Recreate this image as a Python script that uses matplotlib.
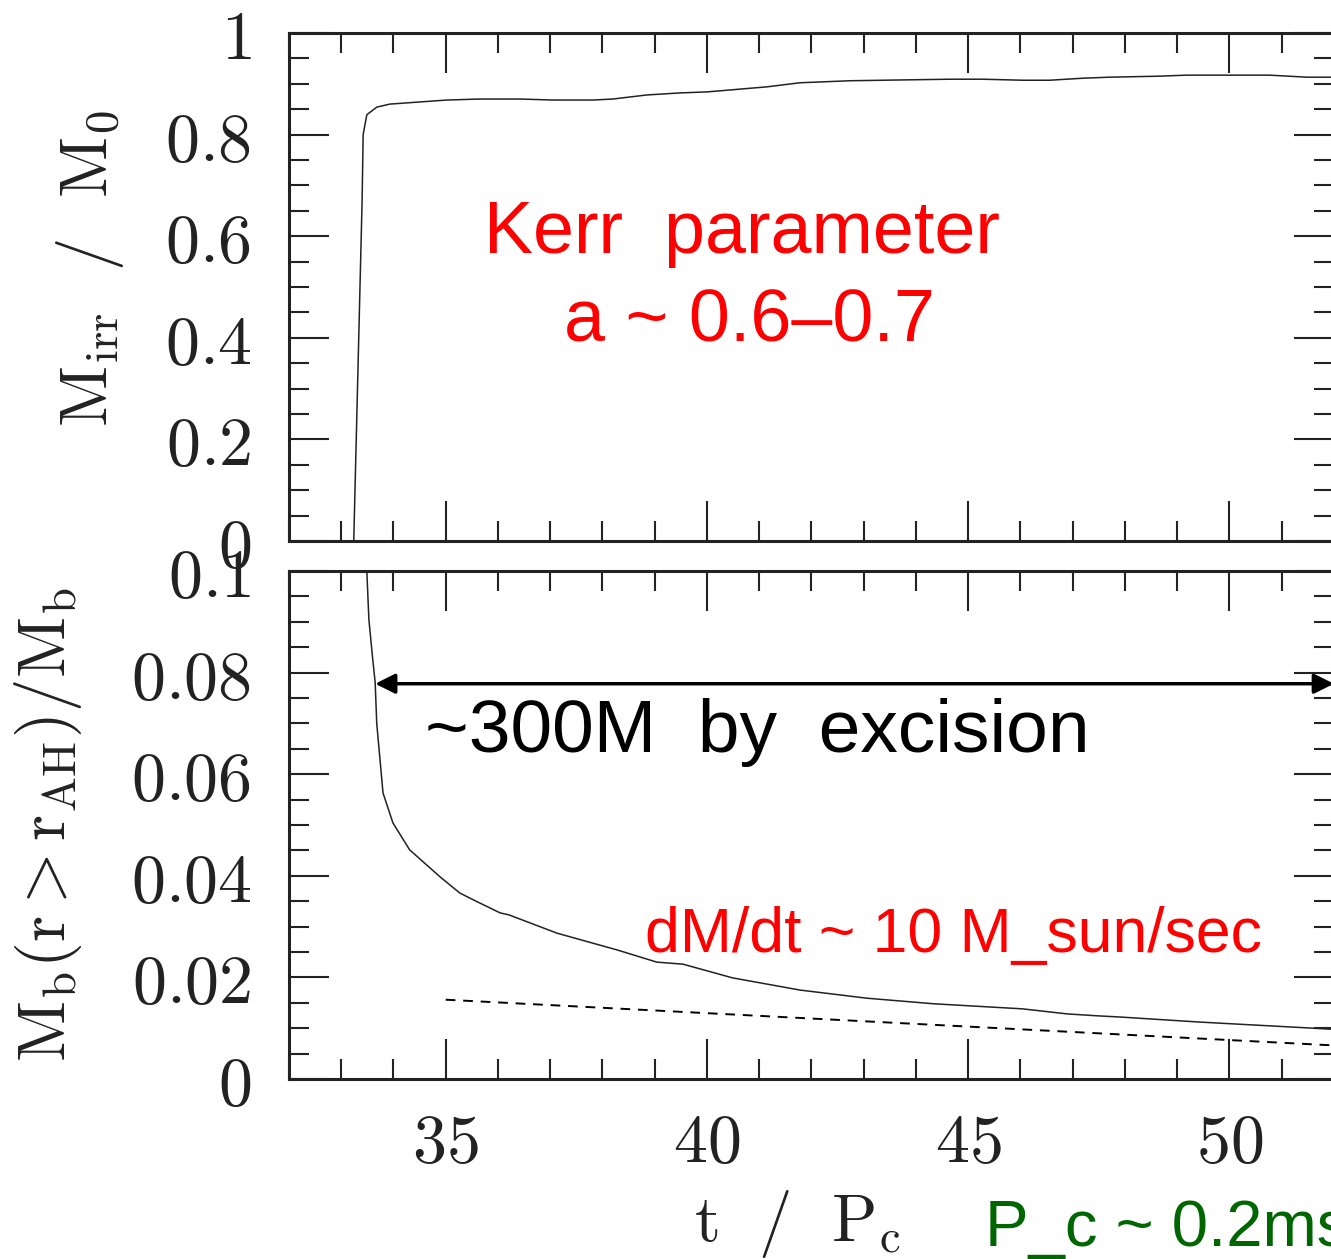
"""
Irreducible mass of the black hole and baryon mass outside the apparent
horizon, both as a function of t / P_c.
"""
import matplotlib
matplotlib.use("Agg")
import matplotlib.pyplot as plt
from matplotlib.ticker import MultipleLocator, FuncFormatter

plt.rcParams["mathtext.fontset"] = "cm"

# upper panel: M_irr / M_0
t_irr = [33.24, 33.40, 33.42, 33.49, 33.68, 33.93, 35.02, 35.65, 36.42,
         37.05, 37.82, 38.20, 38.85, 39.48, 40.00, 41.15, 41.78, 42.74,
         43.37, 44.65, 45.28, 46.04, 46.56, 47.20, 47.71, 48.66, 49.18,
         50.00, 50.77, 51.48, 51.94]
m_irr = [0.0, 0.67, 0.80, 0.839, 0.854, 0.860, 0.868, 0.870, 0.870,
         0.868, 0.868, 0.870, 0.878, 0.882, 0.884, 0.894, 0.902, 0.906,
         0.907, 0.909, 0.909, 0.907, 0.907, 0.911, 0.913, 0.915, 0.917,
         0.917, 0.917, 0.913, 0.913]

# lower panel: M_b(r > r_AH) / M_b
t_out = [33.49, 33.53, 33.60, 33.65, 33.68, 33.80, 33.99, 34.31, 34.89,
         35.27, 35.54, 36.04, 36.21, 37.13, 38.28, 39.04, 39.54, 40.49,
         41.78, 43.06, 44.34, 46.04, 46.90, 47.52, 47.90, 49.43, 51.59,
         51.94]
m_out = [0.100, 0.0904, 0.0830, 0.0780, 0.0700, 0.0563, 0.0504, 0.0451,
         0.0398, 0.0366, 0.0352, 0.0327, 0.0323, 0.0287, 0.0254, 0.0230,
         0.0226, 0.0199, 0.0175, 0.0159, 0.0148, 0.0138, 0.0128, 0.0124,
         0.0122, 0.0112, 0.0100, 0.0098]

# dashed reference slope (dM/dt ~ 10 M_sun/sec)
t_slope = [35.0, 52.0]
m_slope = [0.0156, 0.0066]

T_MIN, T_MAX = 32, 52
INK = "#222222"


def style_axis(ax, ymajor, yminor):
    """Ticks inside on all four sides, long majors, computer-modern labels."""
    ax.set_xlim(T_MIN, T_MAX)
    ax.xaxis.set_major_locator(MultipleLocator(5))
    ax.xaxis.set_minor_locator(MultipleLocator(1))
    ax.yaxis.set_major_locator(MultipleLocator(ymajor))
    ax.yaxis.set_minor_locator(MultipleLocator(yminor))
    fmt = FuncFormatter(lambda v, pos: f"${v:g}$")
    ax.xaxis.set_major_formatter(fmt)
    ax.yaxis.set_major_formatter(fmt)
    ax.tick_params(which="both", direction="in", top=True, right=True,
                   color=INK, width=1.5, labelsize=49, labelcolor=INK)
    ax.tick_params(which="major", length=29)
    ax.tick_params(which="minor", length=14.5)
    ax.tick_params(axis="x", pad=22)
    ax.tick_params(axis="y", pad=27)
    for spine in ax.spines.values():
        spine.set_linewidth(2.2)
        spine.set_color(INK)


fig = plt.figure(figsize=(13.31, 12.59), dpi=100)
ax_top = fig.add_axes([0.2171, 0.5703, 0.7851, 0.4035])
ax_bot = fig.add_axes([0.2171, 0.1430, 0.7851, 0.4035])

# upper panel
ax_top.plot(t_irr, m_irr, color=INK, lw=1.1)
ax_top.set_ylim(0, 1)
style_axis(ax_top, 0.2, 0.05)
ax_top.tick_params(axis="x", labelbottom=False)
ax_top.text(40.67, 0.567, "Kerr  parameter", color="red", fontsize=53,
            family="Liberation Sans", ha="center", va="baseline")
ax_top.text(40.82, 0.392, "a ~ 0.6\u20130.7", color="red", fontsize=53,
            family="Liberation Sans", ha="center", va="baseline")

# lower panel
ax_bot.plot(t_out, m_out, color=INK, lw=1.1)
ax_bot.plot(t_slope, m_slope, color="black", lw=1.4, dashes=(5, 4))
ax_bot.set_ylim(0, 0.1)
style_axis(ax_bot, 0.02, 0.005)
ax_bot.annotate("", xy=(33.65, 0.0778), xytext=(T_MAX, 0.0778),
                arrowprops=dict(arrowstyle="<|-|>", lw=2.5, color="black",
                                mutation_scale=30, shrinkA=0, shrinkB=0),
                annotation_clip=False)
ax_bot.text(34.60, 0.0644, "~300M  by  excision", color="black", fontsize=54,
            family="Liberation Sans", ha="left", va="baseline")
ax_bot.text(38.81, 0.0250, "dM/dt ~ 10 M_sun/sec", color="red", fontsize=45,
            family="Liberation Sans", ha="left", va="baseline")
ax_bot.text(45.32, -0.0328, "P_c ~ 0.2ms", color="#006600", fontsize=47,
            family="Liberation Sans", ha="left", va="baseline", clip_on=False)

# axis labels
fig.text(0.0676, 0.787, r"$\mathrm{M_{irr}\ \ /\ \ M_0}$", rotation=90,
         ha="center", va="center", fontsize=48, color=INK)
fig.text(0.036, 0.3447, r"$\mathrm{M_b(r>r_{AH})/M_b}$", rotation=90,
         ha="center", va="center", fontsize=48, color=INK)
fig.text(0.599, 0.0280, r"$\mathrm{t\ \ /\ \ P_c}$",
         ha="center", va="center", fontsize=48, color=INK)

fig.savefig("out.png", dpi=100)
